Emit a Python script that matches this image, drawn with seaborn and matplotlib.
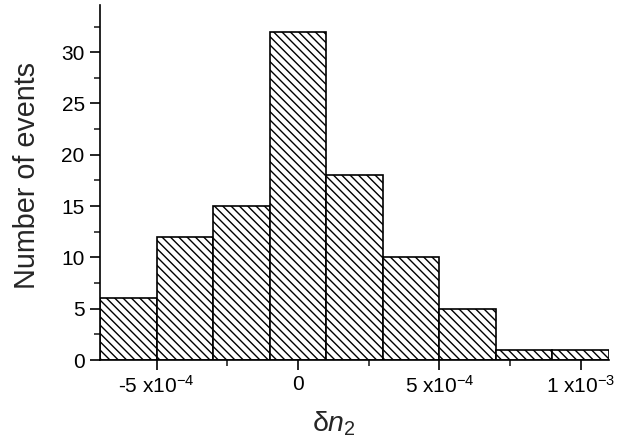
import numpy as np
import pandas as pd
import matplotlib
matplotlib.use("Agg")
import matplotlib.pyplot as plt
import matplotlib.ticker as mticker
import seaborn as sns

# histogram data
bin_edges = [-7e-4, -5e-4, -3e-4, -1e-4, 1e-4, 3e-4, 5e-4, 7e-4, 9e-4, 1.1e-3]
counts = [6, 12, 15, 32, 18, 10, 5, 1, 1]
xtick_vals = [-5e-4, 0, 5e-4, 1e-3]
xtick_labels = ['-5 x10$^{-4}$', '0', '5 x10$^{-4}$', '1 x10$^{-3}$']
ytick_vals = [0, 5, 10, 15, 20, 25, 30]

sns.set_style("ticks")
plt.rcParams['font.family'] = ['Liberation Sans', 'DejaVu Sans']
plt.rcParams['mathtext.fontset'] = 'custom'
plt.rcParams['mathtext.rm'] = 'Liberation Sans'
plt.rcParams['mathtext.it'] = 'Liberation Sans:italic'
plt.rcParams['axes.unicode_minus'] = False
plt.rcParams['hatch.linewidth'] = 1.0

centers = [(a + b) / 2 for a, b in zip(bin_edges[:-1], bin_edges[1:])]
df = pd.DataFrame({'dn2': centers, 'n': counts})

fig = plt.figure(figsize=(6.19, 4.38), dpi=100)
ax = fig.add_axes([100/619, 78/438, 509/619, 355/438])

sns.histplot(data=df, x='dn2', weights='n', bins=bin_edges, ax=ax,
             color='white', edgecolor='black', linewidth=1.2,
             hatch='\\\\\\\\', alpha=1)

ax.set_xlim(-7e-4, 1.1e-3)
ax.set_ylim(0, 34.6)
ax.set_xticks(xtick_vals)
ax.set_xticklabels(xtick_labels)
ax.set_yticks(ytick_vals)
ax.xaxis.set_minor_locator(mticker.MultipleLocator(2.5e-4))
ax.yaxis.set_minor_locator(mticker.MultipleLocator(2.5))
ax.tick_params(which='major', length=7, width=1.2, labelsize=15, colors='black', pad=4)
ax.tick_params(which='minor', length=4, width=1.2)

for s in ['top', 'right']:
    ax.spines[s].set_visible(False)
for s in ['left', 'bottom']:
    ax.spines[s].set_linewidth(1.2)
    ax.spines[s].set_color('black')

ax.set_ylabel('Number of events', fontsize=20.7)
ax.yaxis.set_label_coords(-0.115, 0.52)
ax.set_xlabel('δ$\\mathit{n}_2$', fontsize=20.5)
ax.xaxis.set_label_coords(0.46, -0.14)

fig.savefig('out.png', dpi=100)
